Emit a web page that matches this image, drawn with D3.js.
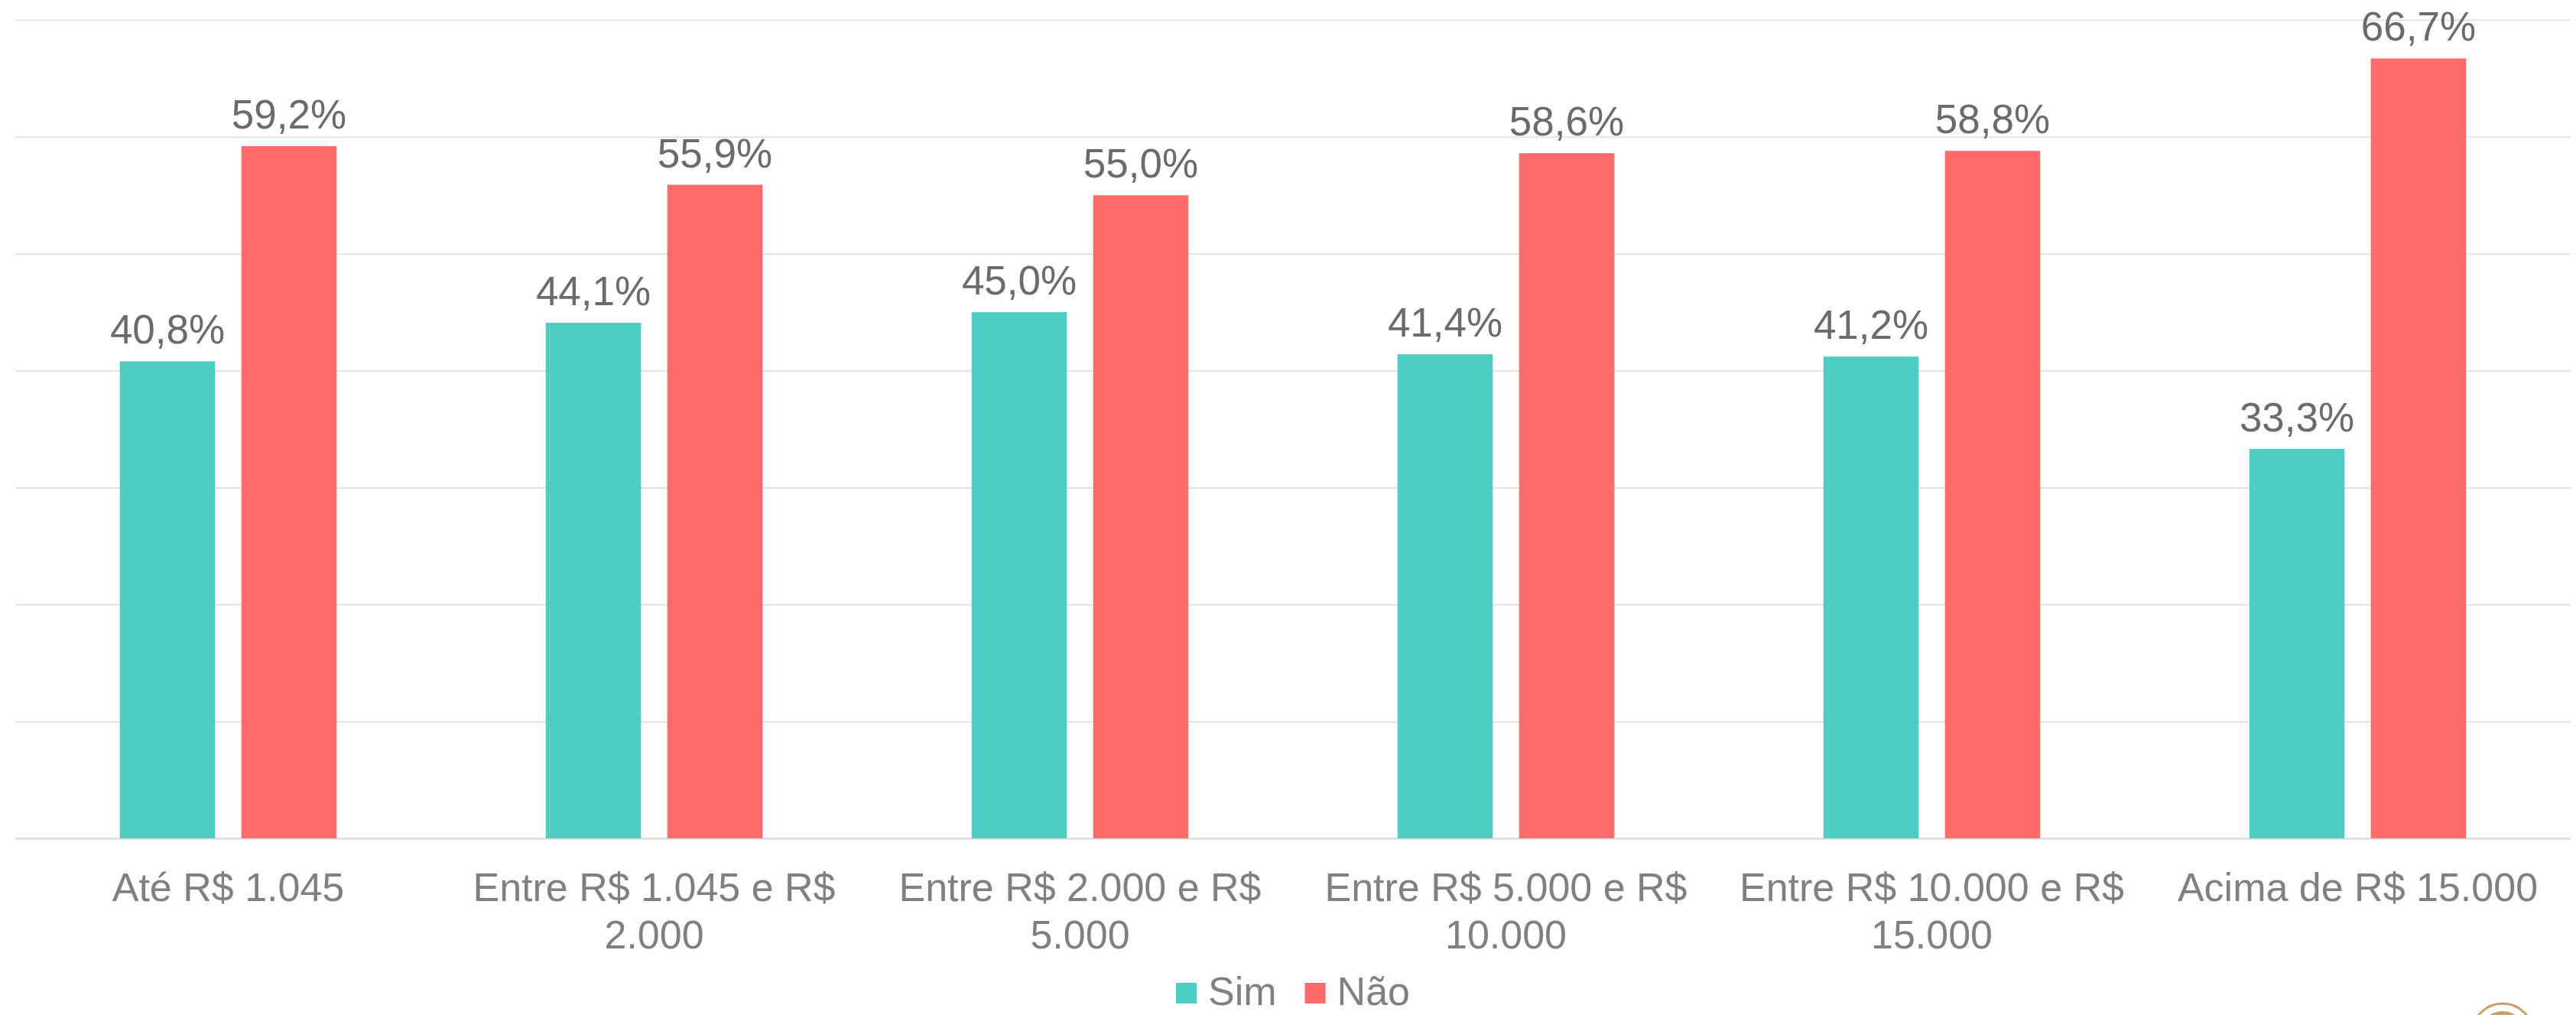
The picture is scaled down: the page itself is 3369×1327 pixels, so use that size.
<!DOCTYPE html>
<html>
<head>
<meta charset="utf-8">
<script src="https://cdn.jsdelivr.net/npm/d3@7"></script>
<style>
  html, body { margin: 0; padding: 0; background: #ffffff; }
  svg { display: block; font-family: "Liberation Sans", Arial, sans-serif; }
</style>
</head>
<body>
<svg id="chart" width="3369" height="1327"></svg>
<script>
const categories = [
  "Até R$ 1.045",
  "Entre R$ 1.045 e R$ 2.000",
  "Entre R$ 2.000 e R$ 5.000",
  "Entre R$ 5.000 e R$ 10.000",
  "Entre R$ 10.000 e R$ 15.000",
  "Acima de R$ 15.000"
];
const seriesNames = ["Sim", "Não"];
const simValues = [40.8, 44.1, 45.0, 41.4, 41.2, 33.3];
const naoValues = [59.2, 55.9, 55.0, 58.6, 58.8, 66.7];
const yTicks = [0, 10, 20, 30, 40, 50, 60, 70];
const colors = ["#4ECDC4", "#FF6B6B"];

const W = 3369, H = 1327;
const margin = { left: 20, right: 7, top: 26, bottom: 231 };
const plotW = W - margin.left - margin.right;
const plotH = H - margin.top - margin.bottom;

const svg = d3.select("#chart");
const g = svg.append("g").attr("transform", `translate(${margin.left},${margin.top})`);

const x0 = d3.scaleBand().domain(categories).range([0, plotW])
  .paddingInner(0.491).paddingOuter(0.2455);
const x1 = d3.scaleBand().domain(seriesNames).range([0, x0.bandwidth()])
  .paddingInner(0.2164).paddingOuter(0);
const y = d3.scaleLinear().domain([0, 70]).range([plotH, 0]);

const locale = d3.formatLocale({ decimal: ",", thousands: ".", grouping: [3], currency: ["R$", ""] });
const fmt = locale.format(".1f");

// gridlines
const yAxis = d3.axisLeft(y).tickValues(yTicks).tickSize(-plotW).tickFormat("");
const ga = g.append("g").call(yAxis);
ga.select(".domain").remove();
ga.selectAll(".tick line").attr("stroke", "#e3e3e3").attr("stroke-width", 2);
ga.selectAll(".tick").filter(d => d === 0).select("line").attr("stroke", "#dcdcdc").attr("stroke-width", 2.5);

const data = categories.map((c, i) => ({ cat: c, vals: [simValues[i], naoValues[i]] }));

const groups = g.selectAll(".grp").data(data).join("g")
  .attr("transform", d => `translate(${x0(d.cat)},0)`);

groups.selectAll("rect").data(d => d.vals.map((v, j) => ({ s: seriesNames[j], v, j })))
  .join("rect")
  .attr("x", d => x1(d.s))
  .attr("width", x1.bandwidth())
  .attr("y", d => y(d.v))
  .attr("height", d => plotH - y(d.v))
  .attr("fill", d => colors[d.j]);

groups.selectAll("text.val").data(d => d.vals.map((v, j) => ({ s: seriesNames[j], v, j })))
  .join("text")
  .attr("class", "val")
  .attr("x", d => x1(d.s) + x1.bandwidth() / 2)
  .attr("y", d => y(d.v) - 23)
  .attr("text-anchor", "middle")
  .attr("font-size", 53)
  .attr("fill", "#6b6b6b")
  .text(d => fmt(d.v) + "%");

// x axis labels
const xAxis = d3.axisBottom(x0).tickSize(0).tickPadding(0);
const gx = g.append("g").attr("transform", `translate(0,${plotH})`).call(xAxis);
gx.select(".domain").remove();
gx.selectAll(".tick text").remove();

gx.selectAll(".tick").each(function(d) {
  const t = d3.select(this).append("text")
    .attr("text-anchor", "middle")
    .attr("font-size", 52)
    .attr("fill", "#808080");
  const words = d.split(" ");
  let lines = [], cur = [];
  const probe = t.append("tspan");
  words.forEach(w => {
    const test = cur.concat([w]).join(" ");
    probe.text(test);
    if (probe.node().getComputedTextLength() > 540 && cur.length) {
      lines.push(cur.join(" "));
      cur = [w];
    } else cur.push(w);
  });
  lines.push(cur.join(" "));
  probe.remove();
  lines.forEach((ln, k) => {
    t.append("tspan").attr("x", 0).attr("y", 82 + k * 61.5).text(ln);
  });
});

// legend
const legend = svg.append("g");
const items = legend.selectAll("g").data(seriesNames).join("g");
let lx = 0;
items.each(function(s, i) {
  const it = d3.select(this).attr("transform", `translate(${lx},0)`);
  it.append("rect").attr("x", 0).attr("y", -29).attr("width", 27).attr("height", 27).attr("fill", colors[i]);
  const tx = it.append("text").attr("x", 42).attr("y", 0).attr("font-size", 52).attr("fill", "#808080").text(s);
  lx += 42 + tx.node().getComputedTextLength() + 37;
});
const legW = lx - 37;
legend.attr("transform", `translate(${margin.left + plotW / 2 - legW / 2},1314)`);

// partial logo at bottom-right corner
const logo = svg.append("g").attr("transform", "translate(3273,1352)");
logo.append("circle").attr("r", 40).attr("fill", "none").attr("stroke", "#c9a06a").attr("stroke-width", 3);
logo.append("circle").attr("r", 30).attr("fill", "#c9a06a");
</script>
</body>
</html>
